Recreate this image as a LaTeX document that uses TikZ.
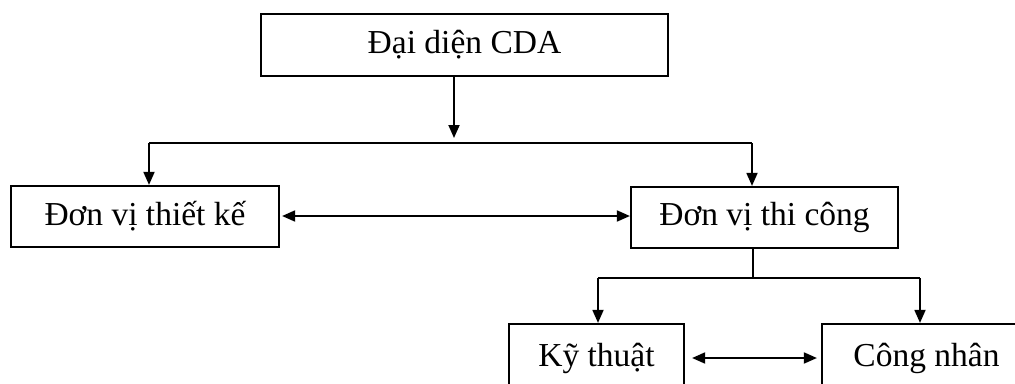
\documentclass[tikz,border=0pt]{standalone}
\usepackage{fontspec}
\setmainfont{Liberation Serif}
\usetikzlibrary{arrows.meta}
\begin{document}
\begin{tikzpicture}[x=1pt,y=-1pt,
  box/.style={draw,line width=2.2pt,inner sep=0pt,font=\fontsize{33.5}{40}\selectfont},
  conn/.style={line width=1.8pt},
  arr/.style={conn,-{Triangle[length=13pt,width=11pt]}},
  darr/.style={conn,{Triangle[length=13pt,width=11pt]}-{Triangle[length=13pt,width=11pt]}}]
\useasboundingbox (0,0) rectangle (1015,383);
\node[box,minimum width=407pt,minimum height=62pt] (top) at (464.5,45) {Đại diện CDA};
\node[box,minimum width=268pt,minimum height=61pt] (left) at (145,216.5) {Đơn vị thiết kế};
\node[box,minimum width=267pt,minimum height=61pt] (right) at (764.5,217.5) {Đơn vị thi công};
\node[box,minimum width=175pt,minimum height=68pt] (kt) at (596.5,358) {Kỹ thuật};
\node[box,minimum width=209pt,minimum height=68pt] (cn) at (926.5,358) {Công nhân};
\coordinate (j1) at (454,143);
\coordinate (j1l) at (149,143);
\coordinate (j1r) at (752,143);
\coordinate (j2) at (753,278);
\coordinate (j2l) at (598,278);
\coordinate (j2r) at (920,278);
\draw[arr,shorten >=5pt] (top.south -| j1) -- (j1);
\draw[conn] (j1l) -- (j1r);
\draw[arr] (j1l) -- (left.north -| j1l);
\draw[arr] (j1r) -- (right.north -| j1r);
\draw[darr,shorten <=2pt] (left.east |- 0,216) -- (right.west |- 0,216);
\draw[conn] (right.south -| j2) -- (j2);
\draw[conn] (j2l) -- (j2r);
\draw[arr] (j2l) -- (kt.north -| j2l);
\draw[arr] (j2r) -- (cn.north -| j2r);
\draw[darr,shorten <=7pt,shorten >=4pt] (kt.east) -- (cn.west);
\end{tikzpicture}
\end{document}
